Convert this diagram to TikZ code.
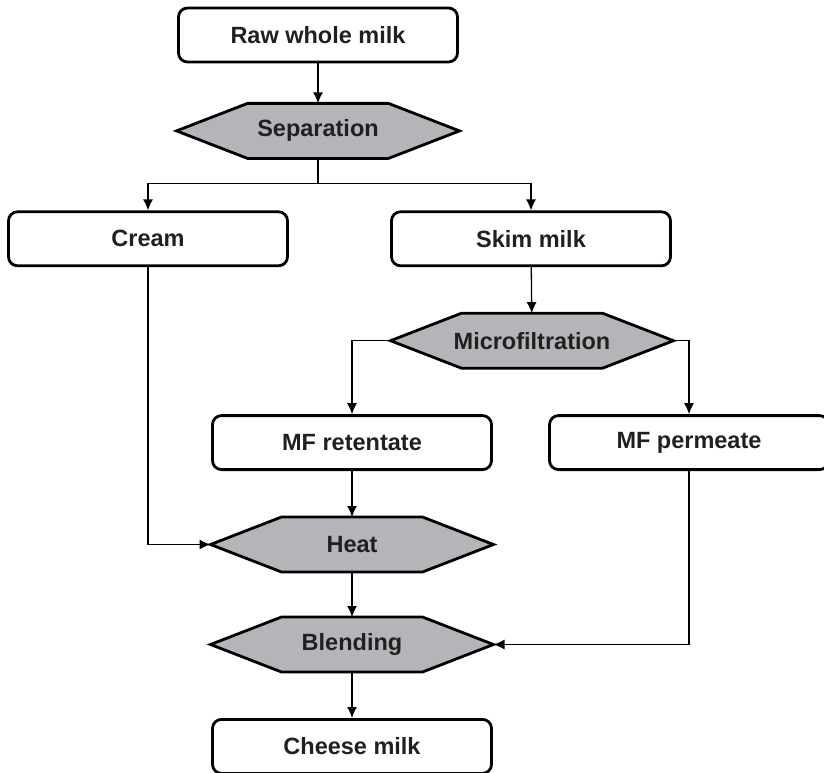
\documentclass[tikz,border=0pt]{standalone}
\usepackage{fontspec}
\setmainfont{Liberation Sans}
\usetikzlibrary{positioning}
\usetikzlibrary{arrows.meta}
\usetikzlibrary{backgrounds}
\definecolor{inkgray}{RGB}{35,31,32}
\definecolor{stepgray}{RGB}{180,181,184}

\begin{document}
\begin{tikzpicture}[
    x=1pt, y=-1pt,
    node distance=45pt,
    >={Latex[length=11pt,width=10pt]},
    % node styles
    box/.style = {
      draw=black,
      line width=2.8pt,
      rounded corners=9pt,
      fill=white,
      minimum width=279pt,
      minimum height=54pt,
      inner sep=0pt,
      align=center,
      font=\bfseries\fontsize{23.5}{28}\selectfont,
      text=inkgray
    },
    hexa/.style = {
      rectangle,
      outer sep=0pt,
      minimum width=283pt,
      minimum height=55pt,
      inner sep=0pt,
      align=center,
      font=\bfseries\fontsize{23.5}{28}\selectfont,
      text=inkgray
    },
    hexline/.style = {draw=black, line width=2.8pt, fill=stepgray, line join=miter},
    % arrow styles
    arr/.style = {->, line width=1.3pt, draw=black},
    plain/.style = {line width=1.3pt, draw=black}
  ]
  \useasboundingbox (0,0) rectangle (824,773);

  % --- Nodes
  \node[box] (raw) at (318,35) {Raw whole milk};

  \node[hexa, below=40pt of raw] (sep) {Separation};

  \node[box, below=52pt of sep, xshift=-170pt] (cream) {Cream};
  \node[box, below=52pt of sep, xshift=213pt] (skim) {Skim milk};

  \node[hexa, below=46pt of skim, xshift=1pt] (mf) {Microfiltration};

  \node[box, below=46pt of mf, xshift=-180pt] (ret) {MF retentate};
  \node[box, below=46pt of mf, xshift=157pt] (perm) {MF permeate};

  \node[hexa, below=46pt of ret] (heat) {Heat};
  \node[hexa, below=45pt of heat] (blend) {Blending};

  \node[box, below=46pt of blend] (cheese) {Cheese milk};

  % --- Hexagon outlines behind the step labels
  \begin{scope}[on background layer]
    \foreach \h in {sep,mf,heat,blend}
      \draw[hexline] (\h.west) -- ([xshift=71pt]\h.north west)
        -- ([xshift=-71pt]\h.north east) -- (\h.east)
        -- ([xshift=-71pt]\h.south east) -- ([xshift=71pt]\h.south west) -- cycle;
  \end{scope}

  % --- Arrows
  \draw[arr] (raw) -- (sep);
  \draw[plain] (sep.south) -- ++(0,25) coordinate (split);
  \draw[arr] (split) -| (cream);
  \draw[arr] (split) -| (skim);
  \draw[arr] (skim) -- (mf);
  \draw[arr] (mf.west) -| (ret);
  \draw[arr] (mf.east) -| (perm);
  \draw[arr] (ret) -- (heat);
  \draw[arr] (cream) |- (heat.west);
  \draw[arr] (heat) -- (blend);
  \draw[arr] (perm) |- (blend.east);
  \draw[arr] (blend) -- (cheese);

\end{tikzpicture}
\end{document}
